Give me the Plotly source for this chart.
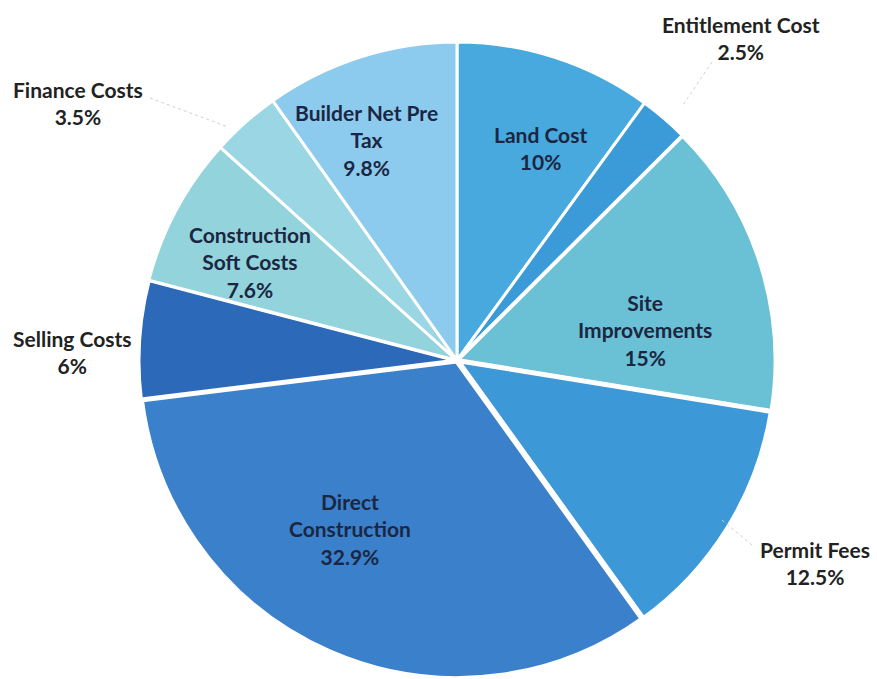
import plotly.graph_objects as go

categories = ["Land Cost", "Entitlement Cost", "Site Improvements", "Permit Fees",
              "Direct Construction", "Selling Costs", "Construction Soft Costs",
              "Finance Costs", "Builder Net Pre Tax"]
values = [10, 2.5, 15, 12.5, 32.9, 6, 7.6, 3.5, 9.8]
value_labels = ["10%", "2.5%", "15%", "12.5%", "32.9%", "6%", "7.6%", "3.5%", "9.8%"]
display_names = ["Land Cost", "Entitlement Cost", "Site<br>Improvements", "Permit Fees",
                 "Direct<br>Construction", "Selling Costs", "Construction<br>Soft Costs",
                 "Finance Costs", "Builder Net Pre<br>Tax"]
colors = ["#48a9de", "#3a9bd8", "#6ac0d4", "#3d98d8", "#3b80cb",
          "#2d69b9", "#92d3dc", "#9ad6e3", "#8dcbee"]
border_widths = [3, 3, 4, 5, 6, 4, 3, 3, 3]

# label placement (pixels in the 877x679 page)
label_px = [(540, 148), (741, 38), (645, 330), (815, 563), (350, 529),
            (72, 352), (250, 262), (78, 103), (366, 140)]
inside = [True, False, True, False, True, False, True, False, True]

W, H = 877, 679

fig = go.Figure(go.Pie(
    labels=categories,
    values=values,
    sort=False,
    direction="clockwise",
    rotation=0,
    textinfo="none",
    hoverinfo="label+percent",
    marker=dict(colors=colors, line=dict(color="white", width=border_widths)),
    domain=dict(x=[138 / W, 776 / W], y=[0, 1 - 42 / H]),
    showlegend=False,
))

for name, val, (px, py), ins in zip(display_names, value_labels, label_px, inside):
    fig.add_annotation(
        x=px / W, y=1 - py / H, xref="paper", yref="paper",
        text=f"<b>{name}<br>{val}</b>", showarrow=False,
        font=dict(family="Lato, 'Open Sans', sans-serif", size=21,
                  color="#1b2742" if ins else "#222222"),
        align="center", xanchor="center", yanchor="middle",
    )

# faint leader lines for outside labels
leaders = [((712, 62), (683, 105)), ((150, 98), (228, 127)), ((752, 545), (722, 520))]
for (x0, y0), (x1, y1) in leaders:
    fig.add_shape(type="line", xref="paper", yref="paper",
                  x0=x0 / W, y0=1 - y0 / H, x1=x1 / W, y1=1 - y1 / H,
                  line=dict(color="#d0d0d0", width=1, dash="dot"))

fig.update_layout(
    width=W, height=H,
    margin=dict(l=0, r=0, t=0, b=0),
    paper_bgcolor="white", plot_bgcolor="white",
)

fig.write_html("out.html")
